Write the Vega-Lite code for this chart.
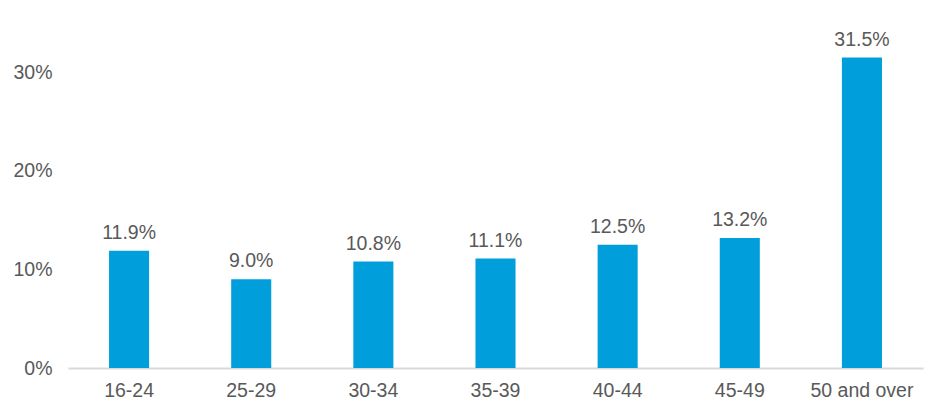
{
  "$schema": "https://vega.github.io/schema/vega-lite/v6.json",
  "autosize": {"type": "none"},
  "width": 855,
  "height": 345,
  "padding": {"left": 68, "top": 23, "right": 24, "bottom": 47},
  "background": "white",
  "config": {
    "view": {"stroke": null},
    "font": "Liberation Sans",
    "axis": {"labelFont": "Liberation Sans", "labelFontSize": 19.5, "labelColor": "#595959", "grid": false, "ticks": false, "title": null}
  },
  "data": {"values": [
    {"age": "16-24", "share": 0.119},
    {"age": "25-29", "share": 0.090},
    {"age": "30-34", "share": 0.108},
    {"age": "35-39", "share": 0.111},
    {"age": "40-44", "share": 0.125},
    {"age": "45-49", "share": 0.132},
    {"age": "50 and over", "share": 0.315}
  ]},
  "encoding": {
    "x": {"field": "age", "type": "nominal", "sort": null,
      "scale": {"paddingInner": 0.672, "paddingOuter": 0.336},
      "axis": {"labelAngle": 0, "domainColor": "#d9d9d9", "domainWidth": 2, "labelPadding": 13}},
    "y": {"field": "share", "type": "quantitative",
      "scale": {"domain": [0, 0.35], "nice": false},
      "axis": {"values": [0, 0.1, 0.2, 0.3], "format": ".0%", "domain": false, "labelPadding": 16}}
  },
  "layer": [
    {"mark": {"type": "bar", "color": "#009fdb"}},
    {"mark": {"type": "text", "dy": -8, "baseline": "bottom", "fontSize": 19.5, "color": "#595959", "font": "Liberation Sans"},
     "encoding": {"text": {"field": "share", "type": "quantitative", "format": ".1%"}}}
  ]
}
